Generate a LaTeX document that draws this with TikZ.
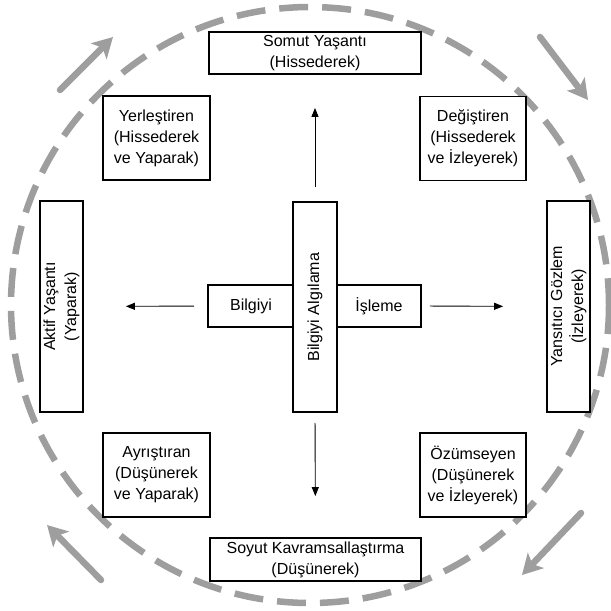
\documentclass[tikz,border=0pt]{standalone}
\usepackage{fontspec}
\setmainfont{Liberation Sans}
\usetikzlibrary{arrows.meta}
\definecolor{ringgray}{RGB}{158,158,158}

\begin{document}
\begin{tikzpicture}[x=1pt, y=-1pt,
  every node/.style={font=\fontsize{16}{21}\selectfont},
  kutu/.style={draw, line width=1.8pt, fill=white, inner sep=0pt, align=center},
  ok/.style={-{Triangle[length=9pt,width=7pt]}, line width=0.9pt},
  halka/.style={ringgray, line width=6.5pt, dash pattern=on 29pt off 14pt},
  donus/.style={ringgray, line width=6.5pt, line cap=round, -{Stealth[length=20pt,width=22pt,inset=5pt]}}]
\useasboundingbox (0,0) rectangle (611,611);
% dashed ring and its four arrows
\draw[halka] (310,305) ellipse [x radius=299, y radius=298];
\draw[donus] (60,90)--(113,37);
\draw[donus] (540,37)--(588,100);
\draw[donus] (581,513)--(522,575);
\draw[donus] (101,580)--(47,525);
% outer boxes
\node[kutu, minimum width=212pt, minimum height=42pt] (somut) at (315,53) {Somut Yaşantı\\(Hissederek)};
\node[kutu, minimum width=211pt, minimum height=43pt] (soyut) at (315.5,559.5) {Soyut Kavramsallaştırma\\(Düşünerek)};
\node[kutu, minimum width=43pt, minimum height=211pt] (aktif) at (61.5,306.5)
  {\rotatebox{90}{\begin{tabular}{@{}c@{}}Aktif Yaşantı\\(Yaparak)\end{tabular}}};
\node[kutu, minimum width=43pt, minimum height=211pt] (yansitici) at (568.5,306.5)
  {\rotatebox{90}{\begin{tabular}{@{}c@{}}Yansıtıcı Gözlem\\(İzleyerek)\end{tabular}}};
\node[kutu, minimum width=107pt, minimum height=84pt] (yerlestiren) at (156.5,138) {Yerleştiren\\(Hissederek\\ve Yaparak)};
\node[kutu, minimum width=106pt, minimum height=84pt] (degistiren) at (473,138.5) {Değiştiren\\(Hissederek\\ve İzleyerek)};
\node[kutu, minimum width=107pt, minimum height=84pt] (ayristiran) at (156.5,475) {Ayrıştıran\\(Düşünerek\\ve Yaparak)};
\node[kutu, minimum width=106pt, minimum height=84pt] (ozumseyen) at (473,475) {Özümseyen\\(Düşünerek\\ve İzleyerek)};
% the cross in the middle
\node[kutu, minimum width=213pt, minimum height=42pt] (hbox) at (314.5,306) {};
\node[kutu, minimum width=44pt, minimum height=210pt] (vbox) at (315,307)
  {\rotatebox{90}{Bilgiyi Algılama}};
\node (bilgiyi) at (251,306) {Bilgiyi};
\node (isleme) at (379,306) {İşleme};
\draw[ok, shorten <=14pt, shorten >=33pt] (vbox.north)--(somut.south);
\draw[ok, shorten <=10pt, shorten >=41pt] (vbox.south)--(soyut.north);
\draw[ok, shorten <=13pt, shorten >=42pt] (hbox.west)--(aktif.east);
\draw[ok, shorten <=8pt, shorten >=43pt] (hbox.east)--(yansitici.west);
\end{tikzpicture}
\end{document}
